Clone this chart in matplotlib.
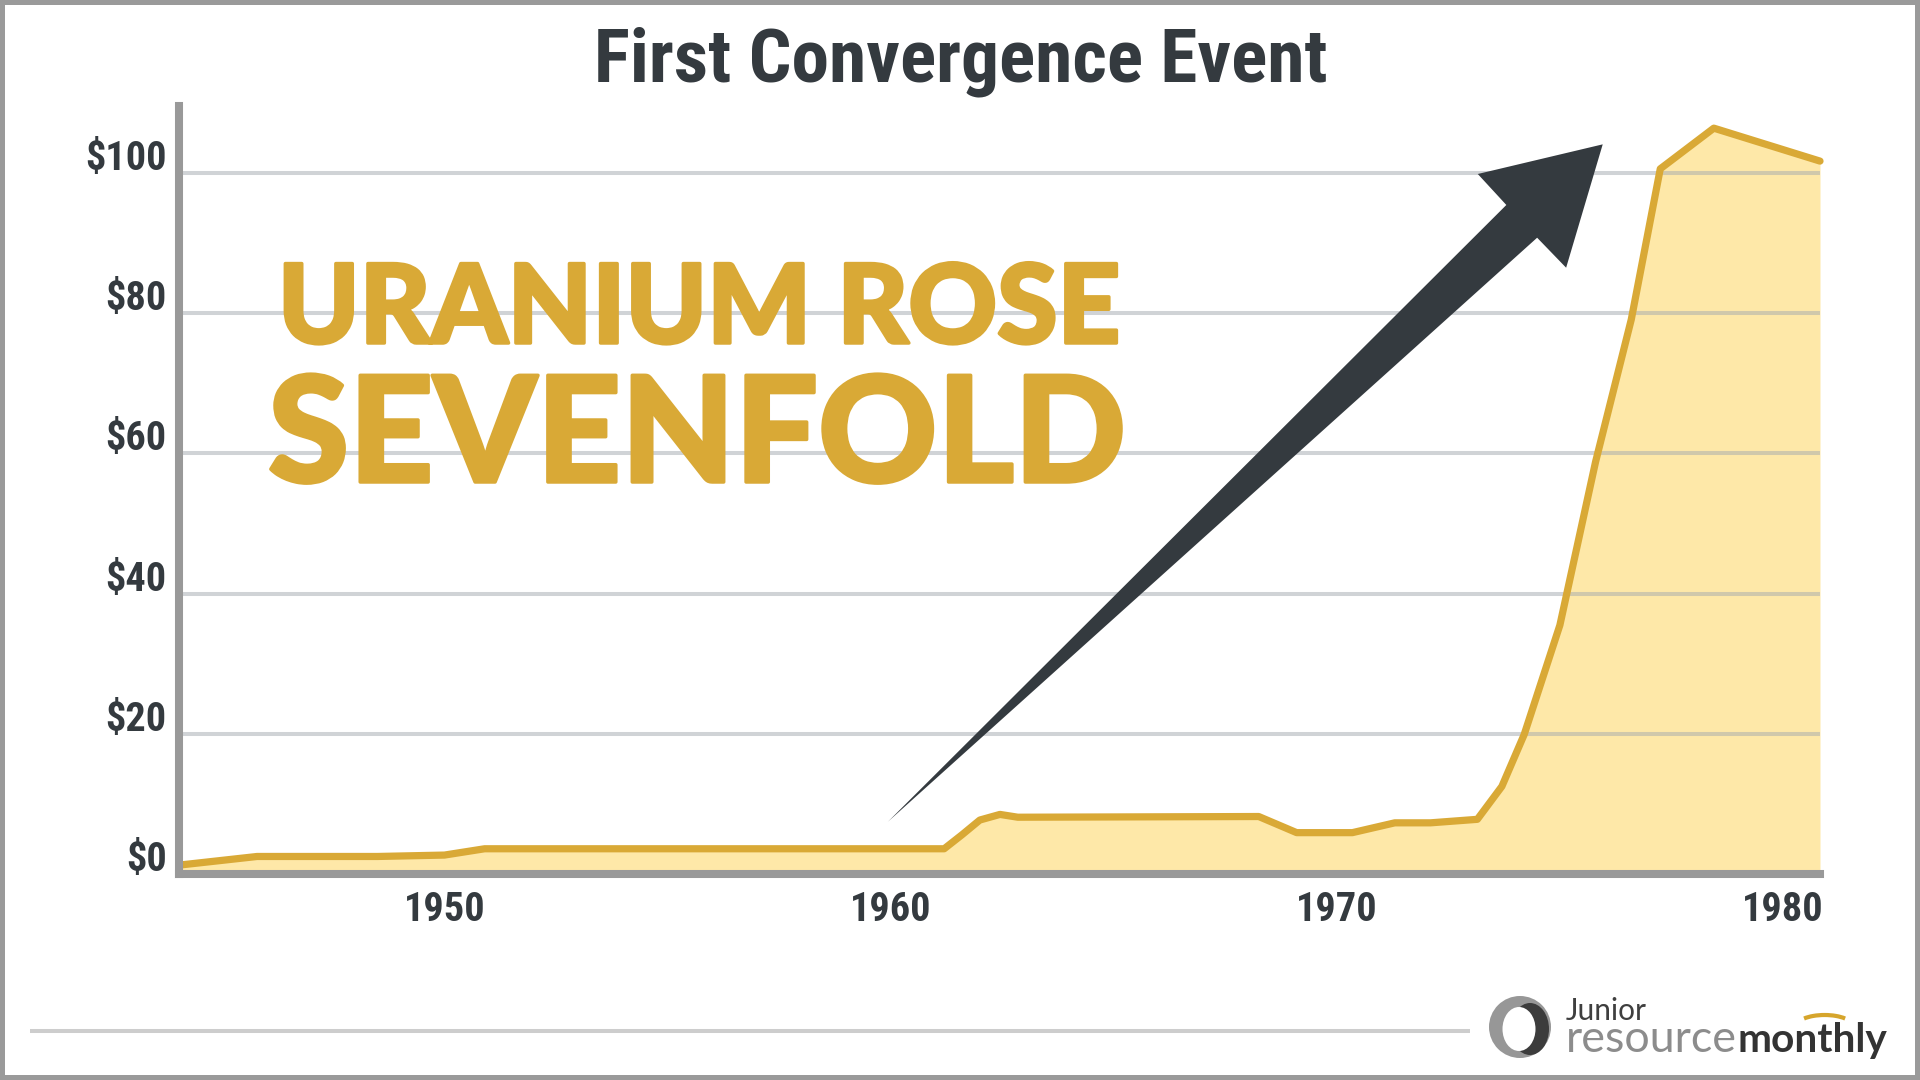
import matplotlib
matplotlib.use("Agg")
import matplotlib.pyplot as plt
from matplotlib import font_manager as fm
from matplotlib import patheffects as pe
from matplotlib.patches import Polygon, Circle, Ellipse, Arc, Rectangle
from matplotlib.transforms import ScaledTranslation

# ---------------- data ----------------
TITLE = "First Convergence Event"
HEADLINE_1 = "URANIUM ROSE"
HEADLINE_2 = "SEVENFOLD"

YEARS = [1944.1, 1945.8, 1948.5, 1950.0, 1950.9, 1961.2, 1961.6, 1962.0,
         1962.45, 1962.85, 1968.25, 1969.1, 1970.35, 1971.3, 1972.1, 1973.15,
         1973.7, 1974.2, 1975.0, 1975.8, 1976.6, 1977.25, 1978.45, 1980.83]
PRICE = [1.3, 2.5, 2.5, 2.7, 3.6, 3.6, 5.6, 7.7,
         8.5, 8.1, 8.2, 5.9, 5.9, 7.3, 7.3, 7.8,
         12.5, 19.9, 35.5, 58.8, 79.1, 100.6, 106.4, 101.7]

X_TICKS = [1950, 1960, 1970, 1980]
X_TICK_LABELS = ["1950", "1960", "1970", "1980"]
Y_TICKS = [0, 20, 40, 60, 80, 100]
Y_TICK_LABELS = [r"\$0", r"\$20", r"\$40", r"\$60", r"\$80", r"\$100"]
X_RANGE = (1944.05, 1980.83)
Y_RANGE = (0, 109.56)

# annotation arrow (tail, inner-left, left barb, tip, right barb, inner-right)
ARROW_YEARS = [1959.94, 1973.80, 1973.16, 1975.96, 1975.14, 1974.49]
ARROW_PRICE = [7.46, 95.44, 99.86, 104.09, 86.49, 90.77]

LOGO_WORDS = ["Junior", "resource", "monthly"]

# ---------------- style ----------------
DARK = "#343A3F"
GOLD = "#D9A936"
FILL = "#FEE8A8"
SPINE = "#999999"
W, H = 1920, 1080


def pick(cands, **kw):
    for c in cands:
        try:
            fm.findfont(fm.FontProperties(family=c, **kw), fallback_to_default=False)
            return c
        except Exception:
            pass
    return "DejaVu Sans"


def wnum(w):
    if isinstance(w, (int, float)):
        return w
    return {"ultralight": 200, "light": 300, "normal": 400, "regular": 400,
            "book": 400, "medium": 500, "roman": 400, "semibold": 600,
            "demibold": 600, "demi": 600, "bold": 700, "heavy": 800,
            "extra bold": 800, "black": 900}.get(str(w).lower(), 400)


def heaviest(cands):
    for fam in cands:
        ws = [wnum(f.weight) for f in fm.fontManager.ttflist if f.name == fam]
        if ws and max(ws) >= 850:
            return fam, True
    return pick(cands), False


COND = pick(["Roboto Condensed", "Liberation Sans Narrow", "Noto Sans Condensed",
             "DejaVu Sans Condensed", "Roboto"])
HEAVY, HAS_BLACK = heaviest(["Lato", "Roboto", "Noto Sans", "Inter", "Open Sans"])
LOGO = pick(["Lato", "Open Sans", "Roboto"])

cond_kw = dict(family=[COND, "DejaVu Sans"], weight="bold", stretch="condensed")

fig = plt.figure(figsize=(19.2, 10.8), dpi=100)
fig.patch.set_facecolor("white")

# overlay in pixel coordinates for frame / footer / logo
ov = fig.add_axes([0, 0, 1, 1], zorder=-1)
ov.set_xlim(0, W)
ov.set_ylim(H, 0)
ov.axis("off")
ov.add_patch(Rectangle((0, 0), W, H, fill=False, ec="#9A9A9A", lw=7.2, clip_on=False))
ov.plot([30, 1470], [1031, 1031], color="#CDCDCD", lw=2.9, solid_capstyle="butt")

# logo mark
ov.add_patch(Circle((1520, 1027), 31, fc="#979797", ec="none"))
ov.add_patch(Ellipse((1530, 1029), 38, 52, fc="#3C3C3C", ec="none"))
ov.add_patch(Ellipse((1519, 1029), 33, 44, fc="white", ec="none"))

# ---------------- main axes ----------------
ax = fig.add_axes([179 / W, 206 / H, (1820 - 179) / W, (974 - 206) / H])
ax.set_facecolor("none")
ax.set_xlim(*X_RANGE)
ax.set_ylim(*Y_RANGE)

ax.fill_between(YEARS, PRICE, 0, color=FILL, lw=0, zorder=1)
ax.plot(YEARS, PRICE, color=GOLD, lw=5.2, solid_joinstyle="round",
        solid_capstyle="round", zorder=3, clip_on=False)

ax.add_patch(Polygon(list(zip(ARROW_YEARS, ARROW_PRICE)), closed=True,
                     fc=DARK, ec="none", zorder=4, clip_on=False))

for s in ["top", "right"]:
    ax.spines[s].set_visible(False)
for s in ["left", "bottom"]:
    ax.spines[s].set_color(SPINE)
    ax.spines[s].set_linewidth(5.8)
    ax.spines[s].set_zorder(3.5)

ax.set_xticks(X_TICKS, X_TICK_LABELS)
ax.set_yticks(Y_TICKS, Y_TICK_LABELS)
ax.grid(axis="y", color="#A3A9AF", alpha=0.5, lw=2.9, zorder=2)
ax.set_axisbelow(False)
ax.tick_params(length=0, labelcolor=DARK)
ax.tick_params(axis="x", pad=12.5)
ax.tick_params(axis="y", pad=9)

fp_tick = fm.FontProperties(size=29, **cond_kw)
for lbl in ax.get_xticklabels():
    lbl.set_fontproperties(fp_tick)
off = ScaledTranslation(0, 3 / 100, fig.dpi_scale_trans)
for lbl in ax.get_yticklabels():
    lbl.set_fontproperties(fp_tick)
    lbl.set_va("baseline")
    lbl.set_transform(lbl.get_transform() + off)

# ---------------- texts ----------------
t_title = fig.text(961 / W, 1 - 81 / H, TITLE, ha="center", va="baseline",
                   color=DARK, fontproperties=fm.FontProperties(size=56, **cond_kw))

heavy_kw = dict(family=[HEAVY, "DejaVu Sans"], weight="black")
stroke = [pe.withStroke(linewidth=(2.5 if HAS_BLACK else 5.0), foreground=GOLD)]
t_h1 = fig.text(278 / W, 1 - 343 / H, HEADLINE_1, ha="left", va="baseline", color=GOLD,
                fontproperties=fm.FontProperties(size=80, **heavy_kw), zorder=5,
                path_effects=stroke)
t_h2 = fig.text(268 / W, 1 - 482 / H, HEADLINE_2, ha="left", va="baseline", color=GOLD,
                fontproperties=fm.FontProperties(size=100, **heavy_kw), zorder=5,
                path_effects=stroke)

logo_fam = [LOGO, "DejaVu Sans"]
t_j = fig.text(1566 / W, 1 - 1020 / H, LOGO_WORDS[0], ha="left", va="baseline",
               color="#3F3F3F", fontproperties=fm.FontProperties(family=logo_fam,
                                                                weight="normal", size=22))
t_r = fig.text(1566 / W, 1 - 1051.7 / H, LOGO_WORDS[1], ha="left", va="baseline",
               color="#8C8C8C", fontproperties=fm.FontProperties(family=logo_fam,
                                                                weight="normal", size=29))
t_m = fig.text(1737 / W, 1 - 1051.7 / H, LOGO_WORDS[2], ha="left", va="baseline",
               color="#333333", fontproperties=fm.FontProperties(family=logo_fam,
                                                                weight="bold", size=29))

# fit widths to reference
fig.canvas.draw()
r = fig.canvas.get_renderer()


def fit(t, target, maxsize=None):
    w = t.get_window_extent(r).width
    s = t.get_fontsize() * target / w
    if maxsize:
        s = min(s, maxsize)
    t.set_fontsize(s)


fit(t_title, 734, 60)
fit(t_h1, 843)
fit(t_h2, 858)
fit(t_j, 81)
fit(t_r, 171)
fig.canvas.draw()
bb = t_r.get_window_extent(r)
t_m.set_x(bb.x1 / W)
fit(t_m, 150)
fig.canvas.draw()
bm = t_m.get_window_extent(r)
# golden arc above the "t" of monthly
tx = bm.x0 + bm.width * 0.585
ov.add_patch(Arc((tx, 1026), 56, 22, theta1=200, theta2=340, color="#D6A52C", lw=3))

fig.savefig("out.png", dpi=100, facecolor="white")
